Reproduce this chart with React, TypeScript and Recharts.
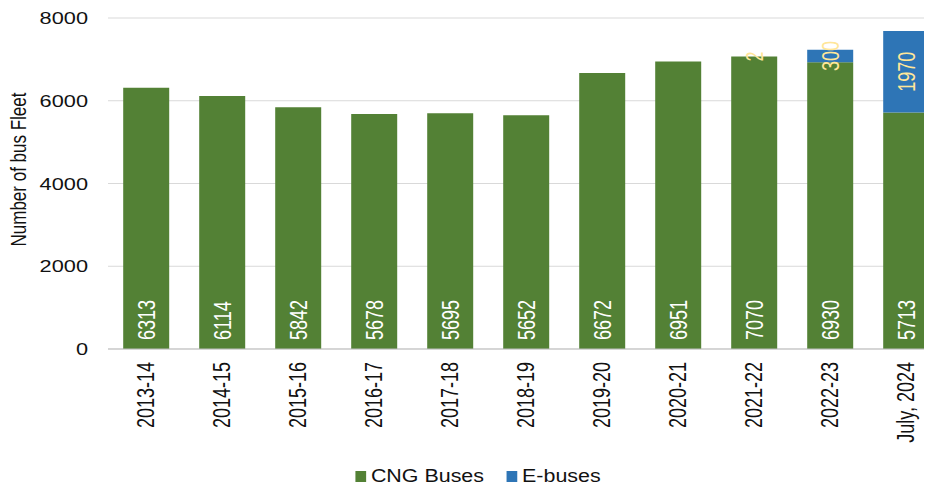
import React from 'react';
import { BarChart, Bar, XAxis, YAxis, CartesianGrid, LabelList } from 'recharts';

const years = ['2013-14', '2014-15', '2015-16', '2016-17', '2017-18', '2018-19', '2019-20', '2020-21', '2021-22', '2022-23', 'July, 2024'];
const cngBuses = [6313, 6114, 5842, 5678, 5695, 5652, 6672, 6951, 7070, 6930, 5713];
const eBuses = [0, 0, 0, 0, 0, 0, 0, 0, 2, 300, 1970];
const yTicks = [0, 2000, 4000, 6000, 8000];

const GREEN = '#538135';
const BLUE = '#2E75B6';
const FONT = '"Liberation Sans", Arial, sans-serif';
// the source image is stretched sideways a bit
const SX = 1.28;

const data = years.map((year, i) => ({ year, cng: cngBuses[i], ebus: eBuses[i] || null }));

const VText = ({ x, y, anchor, fill, size, children }: any) => (
  <text transform={`translate(${x}, ${y}) scale(${SX}, 1) rotate(-90)`} textAnchor={anchor} dominantBaseline="central"
    fill={fill} fontSize={size} fontFamily={FONT}>{children}</text>
);

const BaseLabel = (props: any) => {
  const { x, y, width, height, value } = props;
  return <VText x={x + width / 2} y={y + height - 9} anchor="start" fill="#ffffff" size={18}>{value}</VText>;
};

const CenterLabel = (props: any) => {
  const { x, y, width, height, value } = props;
  if (!value) return null;
  return <VText x={x + width / 2} y={y + height / 2} anchor="middle" fill="#FFE699" size={18}>{value}</VText>;
};

const XTick = ({ x, y, payload }: any) => (
  <VText x={x} y={y + 5} anchor="end" fill="#111" size={18}>{payload.value}</VText>
);

const YTick = ({ x, y, payload }: any) => (
  <text transform={`translate(${x}, ${y}) scale(${SX}, 1)`} textAnchor="end" dominantBaseline="central"
    fill="#111" fontSize={17} fontFamily={FONT}>{payload.value}</text>
);

const YLabel = ({ viewBox }: any) => (
  <VText x={viewBox.x + 18} y={viewBox.y + viewBox.height / 2 - 14} anchor="middle" fill="#111" size={17}>
    Number of bus Fleet
  </VText>
);

export default function App() {
  return (
    <div style={{ margin: -8, width: 944, height: 520, position: 'relative', overflow: 'hidden' }}>
      <BarChart width={944} height={453} data={data} margin={{ top: 18, right: 0, left: 0, bottom: 0 }} barCategoryGap="20%">
        <CartesianGrid vertical={false} stroke="#d9d9d9" />
        <XAxis dataKey="year" height={104} interval={0} tick={<XTick />} tickLine={false} axisLine={{ stroke: '#bfbfbf' }} />
        <YAxis width={108} domain={[0, 8000]} ticks={yTicks} tickSize={0} tickMargin={20} axisLine={false} tickLine={false}
          tick={<YTick />} label={<YLabel />} />
        <Bar dataKey="cng" name="CNG Buses" stackId="a" fill={GREEN} isAnimationActive={false}>
          <LabelList dataKey="cng" content={<BaseLabel />} />
        </Bar>
        <Bar dataKey="ebus" name="E-buses" stackId="a" fill={BLUE} isAnimationActive={false}>
          <LabelList dataKey="ebus" content={<CenterLabel />} />
        </Bar>
      </BarChart>
      <div style={{ position: 'absolute', top: 466, left: 12, width: 932, display: 'flex', justifyContent: 'center' }}>
        <div style={{ display: 'flex', gap: 19, fontFamily: FONT, fontSize: 18, lineHeight: '21px', color: '#111', transform: 'scaleX(1.19)' }}>
          <span style={{ display: 'flex', alignItems: 'center' }}>
            <span style={{ width: 9, height: 11, background: GREEN, marginRight: 4, display: 'inline-block' }} />CNG Buses
          </span>
          <span style={{ display: 'flex', alignItems: 'center' }}>
            <span style={{ width: 9, height: 11, background: BLUE, marginRight: 4, display: 'inline-block' }} />E-buses
          </span>
        </div>
      </div>
    </div>
  );
}
